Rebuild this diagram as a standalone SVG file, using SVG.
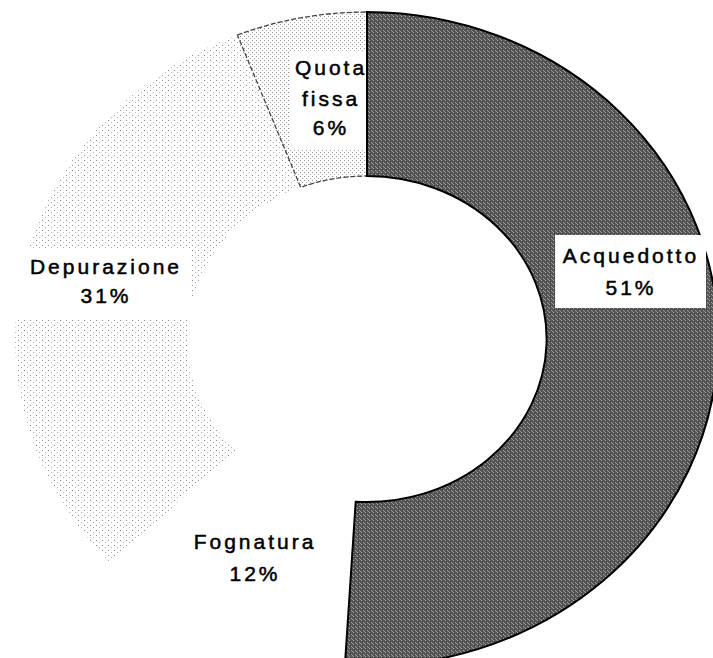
<svg xmlns="http://www.w3.org/2000/svg" width="713" height="658" viewBox="0 0 713 658">
<defs>
<pattern id="pDark" width="4" height="4" patternUnits="userSpaceOnUse">
<rect width="4" height="4" fill="#555555"/>
<rect x="1" y="0" width="1" height="1" fill="#a8a8a8"/>
<rect x="3" y="2" width="1" height="1" fill="#a0a0a0"/>
<rect x="0" y="3" width="1" height="1" fill="#929292"/>
<rect x="2" y="1" width="1" height="1" fill="#3a3a3a"/>
</pattern>
<pattern id="pLight" width="6" height="5" patternUnits="userSpaceOnUse">
<rect width="6" height="5" fill="#ffffff"/>
<rect x="0" y="0" width="1" height="1" fill="#8a8a8a"/>
<rect x="3" y="2" width="1" height="1" fill="#b0b0b0"/>
</pattern>
<pattern id="pQuota" width="4" height="4" patternUnits="userSpaceOnUse">
<rect width="4" height="4" fill="#ffffff"/>
<rect x="0" y="0" width="1" height="1" fill="#8a8a8a"/>
<rect x="2" y="2" width="1" height="1" fill="#a8a8a8"/>
</pattern>
</defs>
<style>
.lbl{font-family:"Liberation Sans",Arial,sans-serif;font-size:21px;letter-spacing:3px;fill:#000;stroke:#000;stroke-width:0.5px;text-anchor:middle}
.box{fill:#fff;stroke:none}
</style>
<g id="segments">
<g id="fognatura">
<path d="M344.9,665.4 A352,327 0 0 1 110.4,562.8 L235.8,450.6 A180,163 0 0 0 355.7,501.7 Z" fill="#fff"/>
</g>
<g id="depurazione">
<path d="M110.4,562.8 A352,327 0 0 1 237.4,35 L300.7,187.4 A180,163 0 0 0 235.8,450.6 Z" fill="url(#pLight)"/>
</g>
<g id="quota">
<path d="M237.4,35 A352,327 0 0 1 367,12 L367,176 A180,163 0 0 0 300.7,187.4 Z" fill="url(#pQuota)" stroke="#444" stroke-width="1.3" stroke-dasharray="5,2"/>
</g>
<g id="acquedotto">
<path d="M367,12 A352,327 0 1 1 344.9,665.4 L355.7,501.7 A180,163 0 1 0 367,176 Z" fill="url(#pDark)" stroke="#000" stroke-width="2"/>
</g>
</g>
<g id="labels">
<g id="label-quota">
<rect class="box" x="289" y="51" width="77" height="99"/>
<text class="lbl" x="331" y="75">Quota</text>
<text class="lbl" x="331" y="106">fissa</text>
<text class="lbl" x="331" y="135">6%</text>
</g>
<g id="label-depurazione">
<rect class="box" x="17" y="250" width="173" height="68"/>
<text class="lbl" x="106" y="274">Depurazione</text>
<text class="lbl" x="106" y="303">31%</text>
</g>
<g id="label-acquedotto">
<rect class="box" x="555" y="235" width="151" height="73"/>
<text class="lbl" x="631" y="263">Acquedotto</text>
<text class="lbl" x="631" y="295">51%</text>
</g>
<g id="label-fognatura">
<text class="lbl" x="255" y="549">Fognatura</text>
<text class="lbl" x="255" y="581">12%</text>
</g>
</g>
</svg>
